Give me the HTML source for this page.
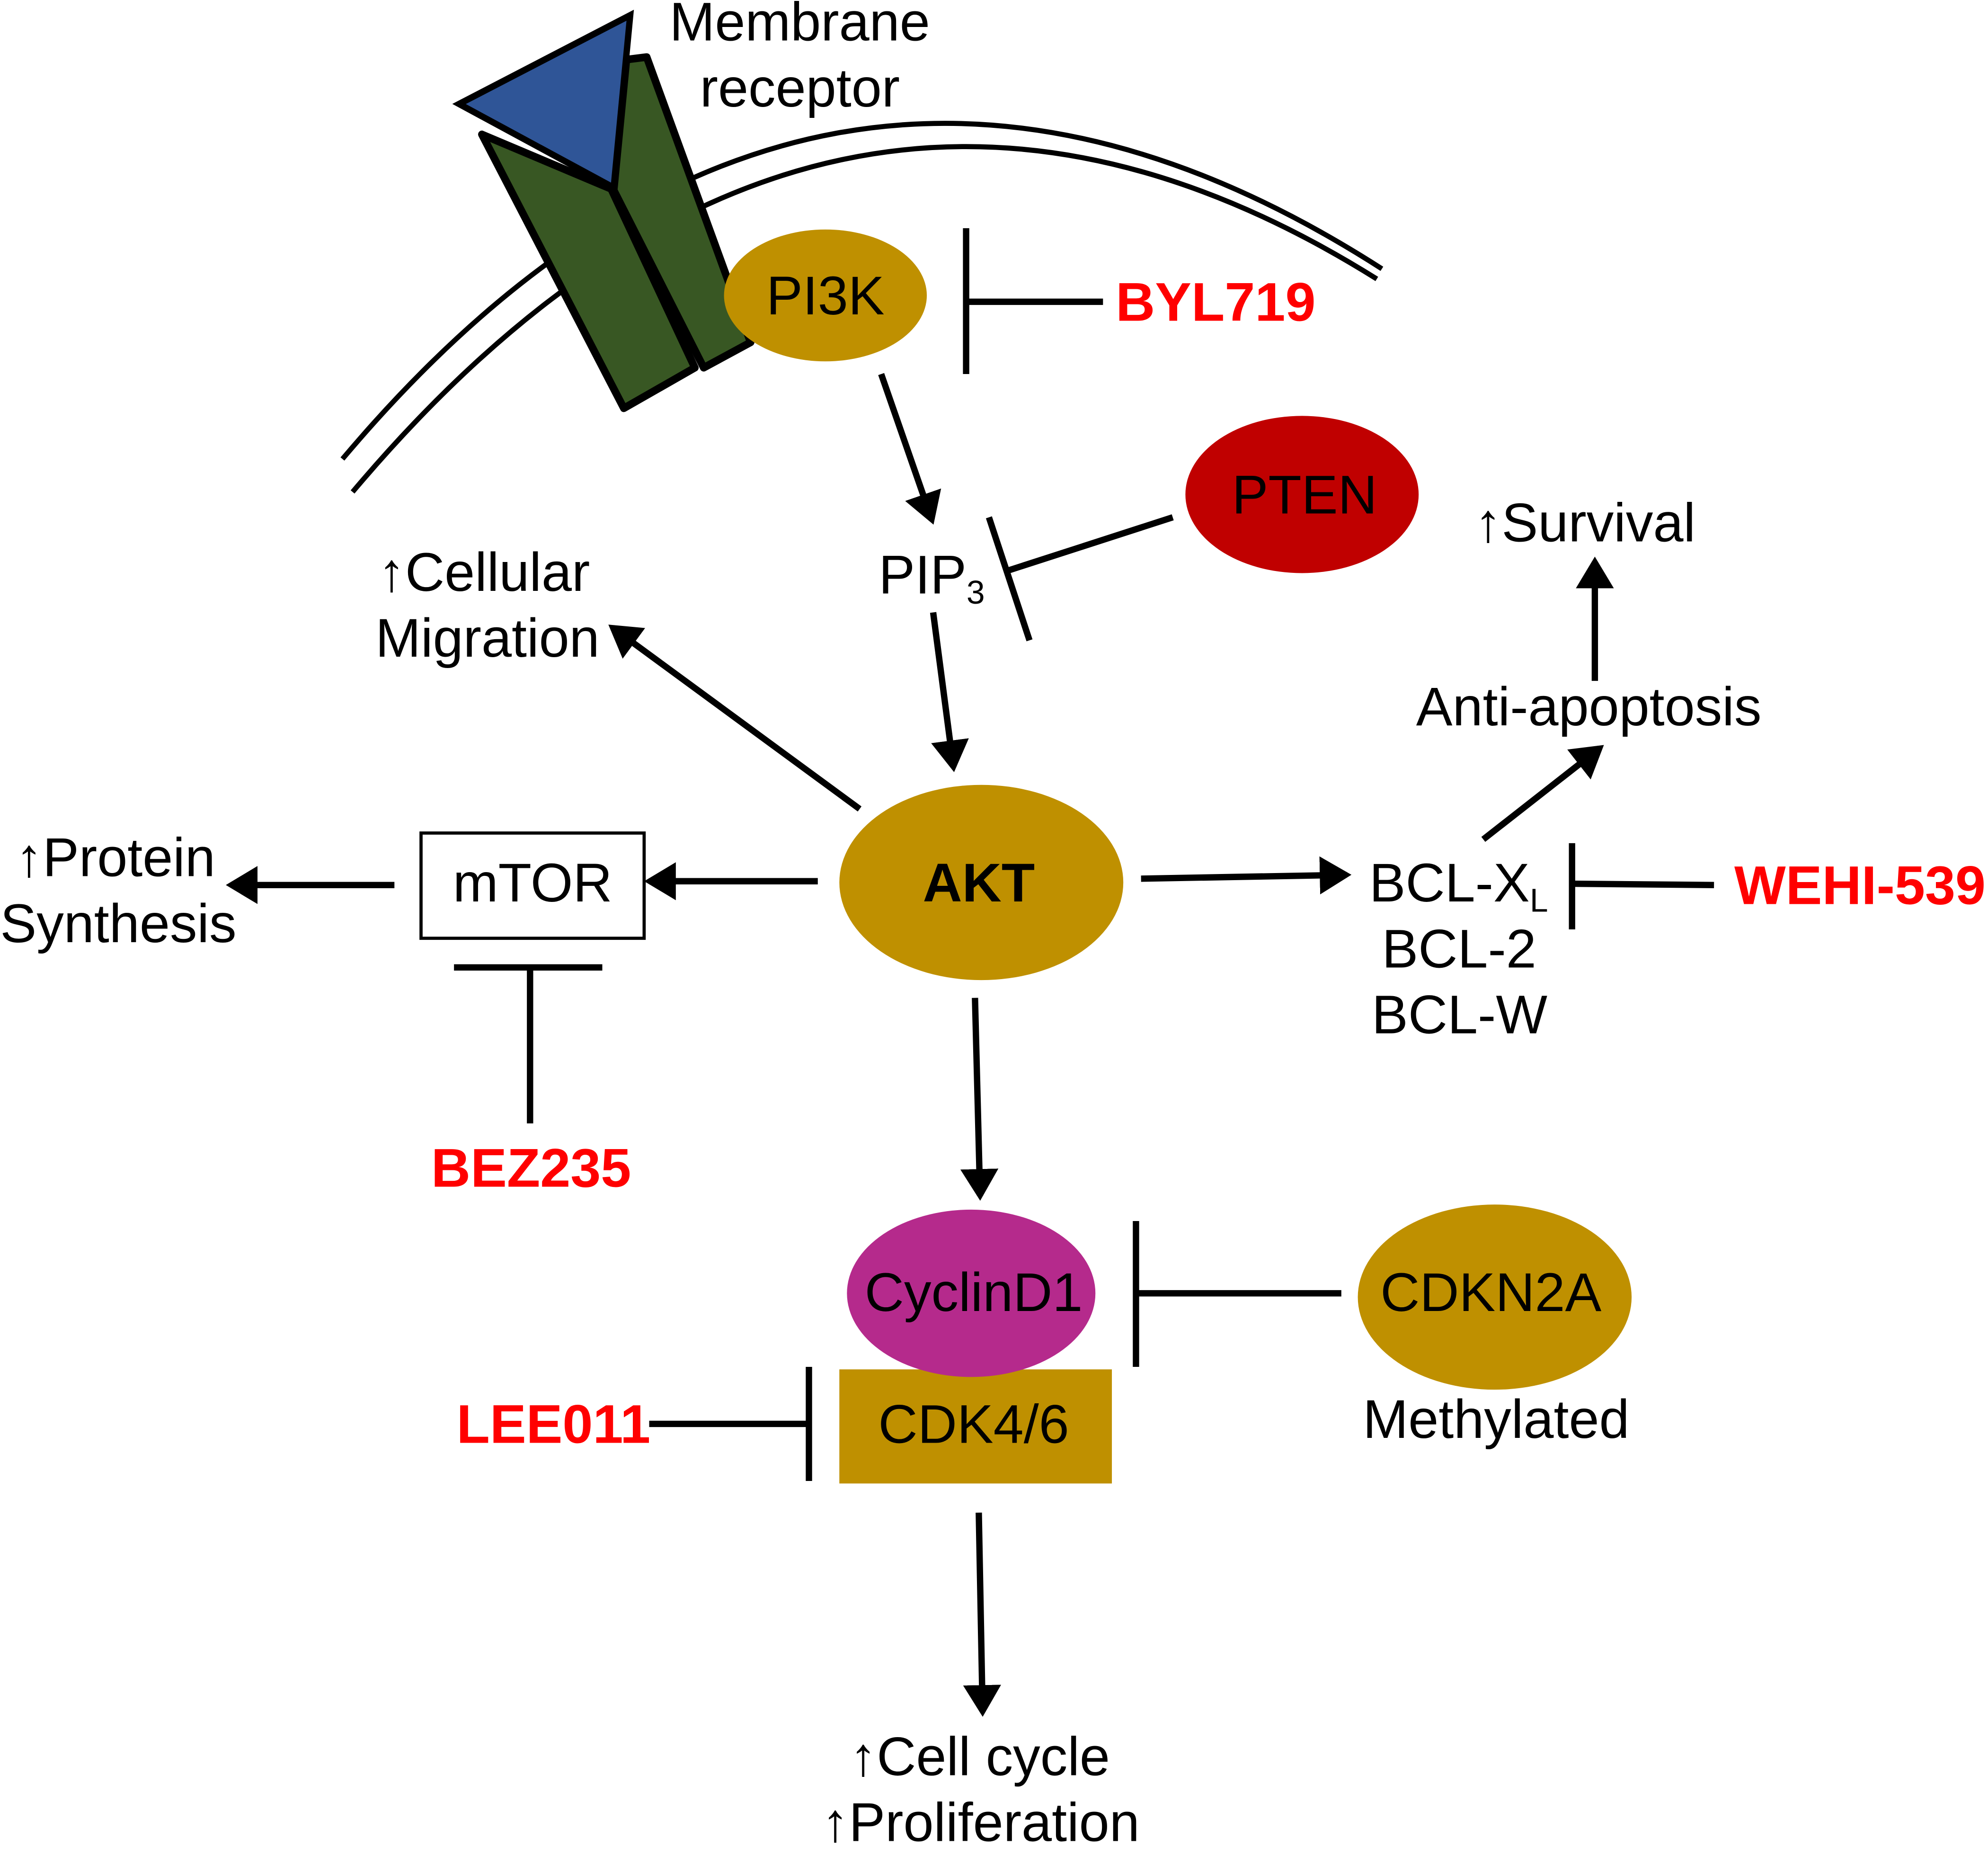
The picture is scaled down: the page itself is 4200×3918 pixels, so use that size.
<!DOCTYPE html>
<html><head><meta charset="utf-8"><style>
html,body{margin:0;padding:0;background:#fff;}
svg{display:block;}
text{font-family:"Liberation Sans",Arial,sans-serif;font-size:43px;fill:#000;}
.r{fill:#ff0000;font-weight:bold;}
</style></head><body>
<svg width="4200" height="3918" viewBox="0 0 1568 1463" xmlns="http://www.w3.org/2000/svg">
<defs>
<marker id="a" markerWidth="6" markerHeight="6" refX="4.2" refY="3" orient="auto" markerUnits="strokeWidth">
<path d="M0,0 L5,3 L0,6 z" fill="#000"/></marker>
</defs>
<rect width="1568" height="1463" fill="#fff"/>
<!-- membrane -->
<path d="M270,362 Q640,-77 1090,212" fill="none" stroke="#000" stroke-width="4"/>
<path d="M278,388 Q650,-53 1086,220" fill="none" stroke="#000" stroke-width="4"/>
<!-- receptor -->
<path d="M380,106 L482,149 L548,290 L492,322 Z" fill="#385723" stroke="#000" stroke-width="6" stroke-linejoin="round"/>
<path d="M494,47 L510,45 L592,270 L555,290 L484,150 Z" fill="#385723" stroke="#000" stroke-width="6" stroke-linejoin="round"/>
<path d="M362,82 L497,12 L484,148 Z" fill="#2f5597" stroke="#000" stroke-width="5" stroke-linejoin="miter"/>
<text x="528" y="32">Membrane</text>
<text x="552" y="84">receptor</text>
<!-- PI3K -->
<ellipse cx="651" cy="233" rx="80" ry="52" fill="#bf9000"/>
<text x="651" y="248" text-anchor="middle">PI3K</text>
<g stroke="#000" stroke-width="5" fill="none">
<line x1="762" y1="180" x2="762" y2="295"/>
<line x1="762" y1="238" x2="870" y2="238"/>
<line x1="695" y1="295" x2="735" y2="410" marker-end="url(#a)"/>
<line x1="925" y1="408" x2="795" y2="450"/>
<line x1="780" y1="408" x2="812" y2="505"/>
<line x1="736" y1="483" x2="752" y2="605" marker-end="url(#a)"/>
<line x1="678" y1="638" x2="483" y2="495" marker-end="url(#a)"/>
<line x1="645" y1="695" x2="512" y2="695" marker-end="url(#a)"/>
<line x1="311" y1="698" x2="182" y2="698" marker-end="url(#a)"/>
<line x1="358" y1="763" x2="475" y2="763"/>
<line x1="418" y1="763" x2="418" y2="886"/>
<line x1="900" y1="693" x2="1062" y2="690" marker-end="url(#a)"/>
<line x1="1240" y1="665" x2="1240" y2="733"/>
<line x1="1240" y1="697" x2="1352" y2="698"/>
<line x1="1170" y1="662" x2="1262" y2="590" marker-end="url(#a)"/>
<line x1="1258" y1="537" x2="1258" y2="443" marker-end="url(#a)"/>
<line x1="769" y1="787" x2="773" y2="943" marker-end="url(#a)"/>
<line x1="896" y1="963" x2="896" y2="1078"/>
<line x1="896" y1="1020" x2="1058" y2="1020"/>
<line x1="512" y1="1123" x2="638" y2="1123"/>
<line x1="638" y1="1078" x2="638" y2="1168"/>
<line x1="772" y1="1193" x2="775" y2="1350" marker-end="url(#a)"/>
</g>
<text x="880" y="253" class="r">BYL719</text>
<text x="693" y="468">PIP<tspan font-size="26" dy="8">3</tspan></text>
<ellipse cx="1027" cy="390" rx="92" ry="62" fill="#c00000"/>
<text x="1029" y="405" text-anchor="middle">PTEN</text>
<text x="298" y="466">↑Cellular</text>
<text x="296" y="518">Migration</text>
<ellipse cx="774" cy="696" rx="112" ry="77" fill="#bf9000"/>
<text x="772" y="711" text-anchor="middle" font-weight="bold">AKT</text>
<rect x="332" y="657" width="176" height="83" fill="#fff" stroke="#000" stroke-width="2.5"/>
<text x="420" y="711" text-anchor="middle">mTOR</text>
<text x="12" y="691">↑Protein</text>
<text x="0" y="743">Synthesis</text>
<text x="340" y="936" class="r">BEZ235</text>
<text x="1080" y="711">BCL-X<tspan font-size="26" dy="8">L</tspan></text>
<text x="1090" y="763">BCL-2</text>
<text x="1082" y="815">BCL-W</text>
<text x="1368" y="713" class="r">WEHI-539</text>
<text x="1117" y="572">Anti-apoptosis</text>
<text x="1163" y="427">↑Survival</text>
<rect x="662" y="1080" width="215" height="90" fill="#bf9000"/>
<ellipse cx="766" cy="1020" rx="98" ry="66" fill="#b52a8c"/>
<text x="768" y="1034" text-anchor="middle">CyclinD1</text>
<text x="768" y="1138" text-anchor="middle">CDK4/6</text>
<ellipse cx="1179" cy="1023" rx="108" ry="73" fill="#bf9000"/>
<text x="1176" y="1034" text-anchor="middle">CDKN2A</text>
<text x="1075" y="1134">Methylated</text>
<text x="360" y="1138" class="r">LEE011</text>
<text x="670" y="1400">↑Cell cycle</text>
<text x="648" y="1452">↑Proliferation</text>
</svg>
</body></html>
